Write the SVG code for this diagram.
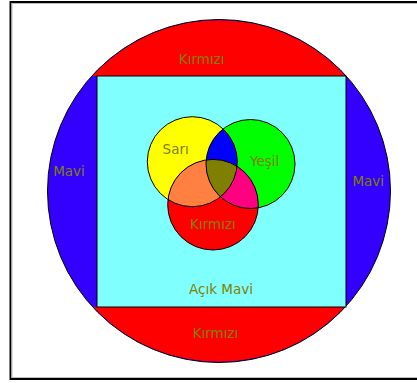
<svg xmlns="http://www.w3.org/2000/svg" width="417" height="383" viewBox="0 0 417 383">
<style>
.lbl{font-family:"DejaVu Sans",Verdana,sans-serif;font-size:13.5px;fill:#808000;text-anchor:middle}
.ol{fill:none;stroke:#000;stroke-width:1}
</style>
<defs>
<clipPath id="cy"><circle cx="192.3" cy="161.7" r="45"/></clipPath>
<clipPath id="cg"><circle cx="250.5" cy="164" r="44.5"/></clipPath>
<clipPath id="cr"><circle cx="213" cy="204.7" r="45.3"/></clipPath>
</defs>
<rect width="417" height="383" fill="#fff"/>
<g id="frame">
<rect x="10.5" y="2" width="420" height="377" fill="none" stroke="#000" stroke-width="2"/>
<rect x="12" y="3.5" width="420" height="374" fill="none" stroke="#bbb" stroke-width="1"/>
</g>
<g id="outer-circle">
<circle cx="219" cy="191" r="171.5" fill="#3300ff"/>
<path d="M92.4,76 A171.5,171.5 0 0 1 345.6,76 Z" fill="#ff0000"/>
<path d="M93.4,307 A171.5,171.5 0 0 0 344.6,307 Z" fill="#ff0000"/>
<circle cx="219" cy="191" r="171.5" class="ol"/>
</g>
<g id="square">
<rect x="97" y="76" width="249" height="231" fill="#80ffff" stroke="#000" stroke-width="1"/>
</g>
<g id="yellow-circle">
<circle cx="192.3" cy="161.7" r="45" fill="#ffff00"/>
</g>
<g id="green-circle">
<circle cx="250.5" cy="164" r="44.5" fill="#00ff00"/>
</g>
<g id="red-circle">
<circle cx="213" cy="204.7" r="45.3" fill="#ff0000"/>
</g>
<g id="intersections">
<g clip-path="url(#cy)"><circle cx="213" cy="204.7" r="45.3" fill="#ff8040"/><circle cx="250.5" cy="164" r="44.5" fill="#0000ff"/></g>
<g clip-path="url(#cg)"><circle cx="213" cy="204.7" r="45.3" fill="#ff0080"/></g>
<g clip-path="url(#cg)"><g clip-path="url(#cy)"><circle cx="213" cy="204.7" r="45.3" fill="#808000"/></g></g>
</g>
<g id="outlines">
<circle cx="192.3" cy="161.7" r="45" class="ol"/>
<circle cx="250.5" cy="164" r="44.5" class="ol"/>
<circle cx="213" cy="204.7" r="45.3" class="ol"/>
</g>
<g id="labels">
<text class="lbl" x="201.7" y="64">Kırmızı</text>
<text class="lbl" x="175.7" y="154">Sarı</text>
<text class="lbl" x="264.7" y="166">Yeşil</text>
<text class="lbl" x="69" y="175.7">Mavi</text>
<text class="lbl" x="368.3" y="185.7">Mavi</text>
<text class="lbl" x="212.9" y="229">Kırmızı</text>
<text class="lbl" x="221" y="294">Açık Mavi</text>
<text class="lbl" x="215.5" y="337.7">Kırmızı</text>
</g>
</svg>
